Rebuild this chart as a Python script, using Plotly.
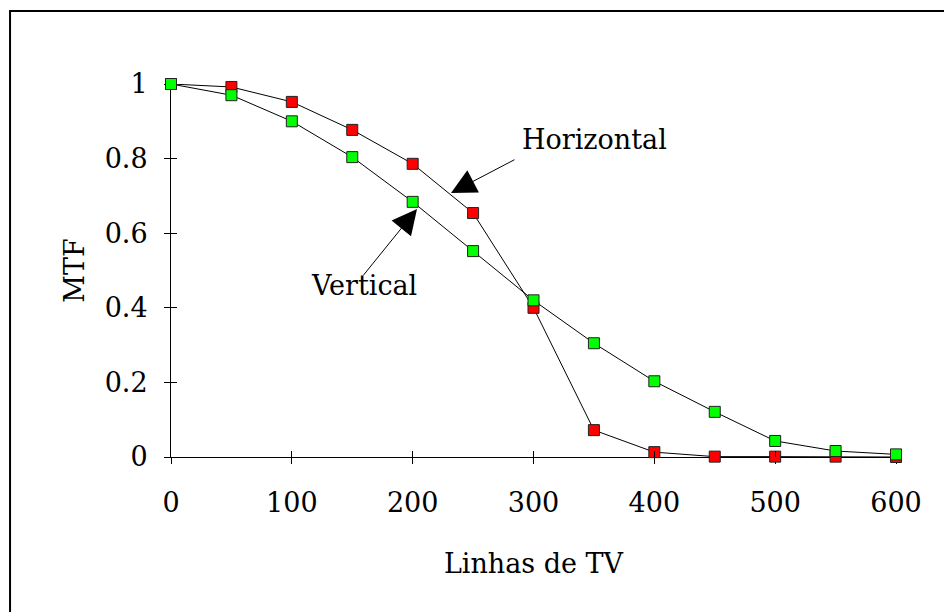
import plotly.graph_objects as go

# ── データ ─────────────────────────────────────────
linhas_tv = [0, 50, 100, 150, 200, 250, 300, 350, 400, 450, 500, 550, 600]
mtf_horizontal = [1.0, 0.992, 0.952, 0.877, 0.786, 0.654, 0.40, 0.072, 0.013, 0.001, 0.001, 0.001, 0.0]
mtf_vertical = [1.0, 0.97, 0.90, 0.804, 0.684, 0.552, 0.42, 0.305, 0.203, 0.121, 0.043, 0.016, 0.007]
x_ticks = [0, 100, 200, 300, 400, 500, 600]
y_ticks = [0, 0.2, 0.4, 0.6, 0.8, 1]

FONT = "DejaVu Serif"
FS = 27

fig = go.Figure()

# 赤（Horizontal）を先に、緑（Vertical）を上に重ねる
for ys, color, name in [(mtf_horizontal, "#FF0000", "Horizontal"),
                        (mtf_vertical, "#00FF00", "Vertical")]:
    fig.add_trace(go.Scatter(
        x=linhas_tv, y=ys, name=name,
        mode="lines+markers",
        line=dict(color="black", width=1),
        marker=dict(symbol="square", size=11, color=color,
                    line=dict(color="#222222", width=1)),
        cliponaxis=False,
        showlegend=False,
    ))

# 外枠（上と左のみ見える）
fig.add_shape(type="rect", xref="paper", yref="paper",
              x0=-0.222, x1=1.2, y0=-0.6, y1=1.196,
              line=dict(color="black", width=2), layer="below")

# 矢印
fig.add_annotation(x=231.7, y=0.708, ax=65, ay=-34, text="",
                   showarrow=True, arrowhead=2, arrowsize=5, arrowwidth=1,
                   arrowcolor="black")
fig.add_annotation(x=203.6, y=0.665, ax=-55, ay=68, text="",
                   showarrow=True, arrowhead=2, arrowsize=5, arrowwidth=1,
                   arrowcolor="black")
# ラベル
fig.add_annotation(x=289, y=0.85, text="Horizontal", showarrow=False,
                   xanchor="left", yanchor="middle",
                   font=dict(family=FONT, size=FS, color="black"))
fig.add_annotation(x=114, y=0.46, text="Vertical", showarrow=False,
                   xanchor="left", yanchor="middle",
                   font=dict(family=FONT, size=FS, color="black"))

axis_common = dict(showgrid=False, zeroline=False, showline=True,
                   linecolor="black", linewidth=1, layer="below traces",
                   ticks="outside", ticklen=6, tickcolor="black", tickwidth=1,
                   tickfont=dict(family=FONT, size=FS, color="black"))

fig.update_layout(
    width=944, height=604,
    paper_bgcolor="white", plot_bgcolor="white",
    margin=dict(l=163, r=56, t=76, b=155),
    font=dict(family=FONT, size=FS, color="black"),
    xaxis=dict(range=[0, 600], tickvals=x_ticks, ticklabelstandoff=16,
               title=dict(text="Linhas de TV", standoff=36,
                          font=dict(family=FONT, size=FS)),
               **axis_common),
    yaxis=dict(range=[0, 1], tickvals=y_ticks, ticklabelstandoff=11,
               tickformat="~g",
               title=dict(text="MTF", standoff=12,
                          font=dict(family=FONT, size=FS)),
               **axis_common),
    # 軸を貫く目盛り（内側）用の重ね軸
    xaxis2=dict(overlaying="x", matches="x", anchor="y", side="bottom",
                tickvals=x_ticks, ticks="inside", ticklen=6, tickcolor="black",
                showticklabels=False, showgrid=False, zeroline=False, showline=False),
    yaxis2=dict(overlaying="y", matches="y", anchor="x", side="left",
                tickvals=y_ticks, ticks="inside", ticklen=6, tickcolor="black",
                showticklabels=False, showgrid=False, zeroline=False, showline=False),
)
fig.add_trace(go.Scatter(x=[None], y=[None], xaxis="x2", yaxis="y2",
                         showlegend=False, hoverinfo="skip"))

fig.write_html("out.html")
